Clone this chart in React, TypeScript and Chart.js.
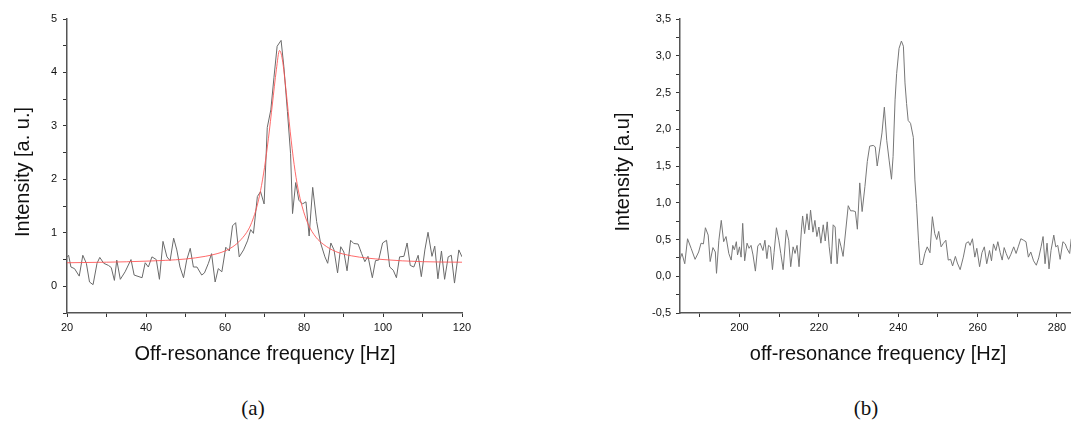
import React, { useEffect, useRef } from 'react';
import { Chart, registerables } from 'chart.js';

Chart.register(...registerables);

// ---------- Panel (a) data ----------
const LEFT_X = [20.0,20.4,21.0,21.9,23.1,24.0,24.9,25.7,26.6,27.6,28.3,29.3,30.5,31.2,32.0,32.6,33.5,34.7,36.2,37.0,39.0,39.8,40.6,41.5,42.6,43.4,44.3,45.3,46.1,47.0,47.8,48.6,49.5,50.3,51.2,52.0,52.9,54.1,54.8,55.8,56.6,57.5,58.3,59.2,60.2,61.1,61.9,62.7,63.6,64.7,65.7,66.5,67.2,68.2,69.0,69.9,70.7,71.6,72.4,73.2,74.2,74.9,75.8,76.6,77.1,77.9,78.7,79.6,80.5,81.3,82.2,83.2,84.2,85.3,86.0,86.8,87.6,88.5,89.3,90.1,90.9,91.8,92.6,93.7,94.6,95.4,96.2,97.3,98.1,98.9,99.9,100.9,101.7,102.6,103.4,104.2,105.3,106.1,106.9,107.8,108.9,109.7,110.6,111.4,112.4,113.1,113.9,114.8,115.6,116.5,117.3,118.1,119.2,120.0];
const LEFT_Y = [0.55,0.58,0.36,0.33,0.19,0.58,0.43,0.08,0.03,0.43,0.54,0.43,0.39,0.35,0.11,0.49,0.13,0.27,0.50,0.21,0.16,0.44,0.36,0.55,0.50,0.13,0.84,0.55,0.48,0.90,0.68,0.36,0.16,0.49,0.71,0.36,0.36,0.21,0.25,0.43,0.61,0.08,0.33,0.27,0.73,0.66,1.13,1.19,0.55,0.68,0.85,1.06,0.99,1.68,1.77,1.54,2.97,3.30,3.91,4.49,4.60,4.11,3.27,2.48,1.36,1.94,1.61,1.54,1.58,0.94,1.85,1.21,0.81,0.55,0.43,0.81,0.68,0.25,0.74,0.64,0.29,0.86,0.80,0.79,0.61,0.46,0.56,0.16,0.48,0.49,0.81,0.86,0.36,0.30,0.16,0.55,0.56,0.81,0.39,0.36,0.58,0.18,0.68,1.01,0.56,0.75,0.14,0.66,0.13,0.55,0.58,0.06,0.68,0.55];

const FIT_X = [20,30,40,50,55,58,60,62,64,66,67,68,69,70,71,72,73,73.8,74.5,75.5,76.5,77.5,78.5,79.5,81,83,85,88,92,100,110,120];
const FIT_Y = [0.44,0.45,0.47,0.51,0.56,0.61,0.66,0.74,0.87,1.07,1.24,1.47,1.79,2.22,2.77,3.41,4.05,4.41,4.25,3.63,2.90,2.28,1.82,1.50,1.17,0.92,0.78,0.65,0.57,0.50,0.46,0.45];

const LEFT_X_TICKS = [20,30,40,50,60,70,80,90,100,110,120];
const LEFT_Y_TICKS = [-0.5,0,0.5,1,1.5,2,2.5,3,3.5,4,4.5,5];

// ---------- Panel (b) data ----------
const RIGHT_X = [184.9,185.5,186.2,186.9,187.8,188.8,189.7,190.3,190.9,191.4,192.1,192.6,193.3,193.9,194.2,194.8,195.4,196.0,196.6,197.3,197.9,198.3,198.7,199.2,199.5,200.0,200.4,200.8,201.3,201.9,202.4,202.9,203.4,204.0,204.6,205.2,205.9,206.4,206.9,207.3,207.8,208.3,208.7,209.3,209.9,210.4,211.0,211.8,212.4,212.9,213.5,214.0,214.5,215.0,215.6,215.9,216.4,217.0,217.5,217.9,218.5,219.0,219.5,220.0,220.5,221.1,221.6,222.1,222.6,223.1,223.6,224.1,224.6,225.1,225.6,226.1,227.4,228.0,228.6,229.2,229.7,230.3,230.9,231.6,232.2,232.8,233.7,234.2,234.7,235.4,235.9,236.5,237.1,237.7,238.3,238.7,239.2,239.6,240.2,240.8,241.3,241.7,242.1,242.5,243.1,243.8,244.2,244.6,245.1,245.5,246.1,246.7,247.3,248.0,248.6,249.2,249.7,250.2,250.8,251.4,252.0,252.6,253.2,253.7,254.4,254.9,255.6,256.4,257.1,257.7,258.1,258.7,259.3,259.8,260.5,261.1,261.7,262.3,263.0,263.5,264.0,264.6,265.1,265.7,266.2,266.7,267.2,267.8,268.4,269.1,269.7,270.3,270.9,271.6,272.2,272.8,273.4,274.1,274.8,275.4,276.0,276.5,277.0,277.5,278.0,278.5,279.2,279.7,280.2,280.8,281.5,282.1,282.5,283.2,283.6];
const RIGHT_Y = [0.22,0.31,0.17,0.51,0.38,0.23,0.33,0.45,0.44,0.66,0.56,0.20,0.39,0.33,0.04,0.49,0.76,0.47,0.54,0.31,0.22,0.42,0.36,0.47,0.29,0.40,0.26,0.72,0.21,0.45,0.38,0.42,0.29,0.07,0.41,0.45,0.35,0.49,0.24,0.42,0.40,0.09,0.32,0.66,0.49,0.31,0.09,0.63,0.49,0.13,0.40,0.31,0.42,0.13,0.63,0.82,0.58,0.85,0.63,0.90,0.60,0.76,0.54,0.67,0.45,0.70,0.48,0.74,0.40,0.17,0.70,0.67,0.17,0.51,0.40,0.27,0.96,0.89,0.89,0.88,0.64,1.27,0.88,1.22,1.56,1.77,1.78,1.76,1.50,1.76,1.95,2.30,1.85,1.58,1.32,1.63,2.40,2.76,3.10,3.20,3.13,2.63,2.35,2.12,2.08,1.89,1.31,0.99,0.49,0.16,0.16,0.31,0.40,0.32,0.81,0.58,0.50,0.61,0.40,0.45,0.49,0.22,0.23,0.14,0.27,0.18,0.09,0.26,0.45,0.47,0.42,0.51,0.26,0.38,0.13,0.32,0.40,0.17,0.35,0.21,0.44,0.35,0.47,0.32,0.22,0.39,0.31,0.23,0.30,0.40,0.31,0.41,0.51,0.49,0.47,0.26,0.33,0.21,0.15,0.25,0.40,0.54,0.17,0.45,0.10,0.35,0.56,0.40,0.42,0.23,0.47,0.44,0.38,0.31,0.51];

const RIGHT_X_TICKS = [190,200,210,220,230,240,250,260,270,280];
const RIGHT_Y_TICKS = [-0.5,-0.25,0,0.25,0.5,0.75,1,1.25,1.5,1.75,2,2.25,2.5,2.75,3,3.25,3.5];

const SANS = '"Liberation Sans", Arial, Helvetica, sans-serif';
const TICK_FONT = { family: SANS, size: 11 };

type PanelSpec = {
  xMin: number; xMax: number; yMin: number; yMax: number;
  xTicks: number[]; yTicks: number[];
  xLabel: (v: number) => string; yLabel: (v: number) => string;
  yAxisWidth: number; padRight: number; yTickPad: number;
  xTitle: string; yTitle: string;
  xTitlePos: [number, number]; yTitlePos: [number, number];
  datasets: any[];
};

function titlePlugin(spec: PanelSpec) {
  return {
    id: 'axisTitles',
    afterDraw(chart: any) {
      const ctx = chart.ctx;
      ctx.save();
      ctx.fillStyle = '#111';
      ctx.font = '20px ' + SANS;
      ctx.textAlign = 'center';
      ctx.textBaseline = 'alphabetic';
      ctx.fillText(spec.xTitle, spec.xTitlePos[0], spec.xTitlePos[1]);
      ctx.translate(spec.yTitlePos[0], spec.yTitlePos[1]);
      ctx.rotate(-Math.PI / 2);
      ctx.fillText(spec.yTitle, 0, 0);
      ctx.restore();
    },
  };
}

function buildConfig(spec: PanelSpec): any {
  const gridOpts = {
    display: true,
    drawOnChartArea: false,
    drawTicks: true,
    tickLength: 4,
    tickColor: '#333',
    tickWidth: 1,
  };
  const borderOpts = { display: true, color: '#555', width: 1.5 };
  return {
    type: 'scatter',
    data: { datasets: spec.datasets },
    options: {
      responsive: false,
      animation: false,
      events: [],
      layout: { padding: { left: 0, top: 19, right: spec.padRight, bottom: 0 } },
      plugins: { legend: { display: false }, tooltip: { enabled: false } },
      scales: {
        x: {
          type: 'linear',
          position: 'bottom',
          min: spec.xMin,
          max: spec.xMax,
          afterBuildTicks: (s: any) => { s.ticks = spec.xTicks.map((v) => ({ value: v })); },
          afterFit: (s: any) => { s.height = 67; },
          ticks: {
            autoSkip: false,
            maxRotation: 0,
            padding: 4,
            color: '#111',
            font: TICK_FONT,
            callback: (v: any) => spec.xLabel(Number(v)),
          },
          grid: gridOpts,
          border: borderOpts,
        },
        y: {
          type: 'linear',
          position: 'left',
          min: spec.yMin,
          max: spec.yMax,
          afterBuildTicks: (s: any) => { s.ticks = spec.yTicks.map((v) => ({ value: v })); },
          afterFit: (s: any) => { s.width = spec.yAxisWidth; },
          ticks: {
            autoSkip: false,
            padding: spec.yTickPad,
            color: '#111',
            font: TICK_FONT,
            callback: (v: any) => spec.yLabel(Number(v)),
          },
          grid: gridOpts,
          border: borderOpts,
        },
      },
    },
    plugins: [titlePlugin(spec)],
  };
}

function line(xs: number[], ys: number[], color: string) {
  return {
    data: xs.map((x, i) => ({ x, y: ys[i] })),
    showLine: true,
    borderColor: color,
    backgroundColor: color,
    borderWidth: 1,
    pointRadius: 0,
    fill: false,
    tension: 0,
  };
}

const leftSpec: PanelSpec = {
  xMin: 20, xMax: 120, yMin: -0.5, yMax: 5,
  xTicks: LEFT_X_TICKS, yTicks: LEFT_Y_TICKS,
  xLabel: (v) => (v % 20 === 0 ? String(v) : ''),
  yLabel: (v) => (Number.isInteger(v) && v >= 0 ? String(v) : ''),
  yAxisWidth: 67, padRight: 540 - 462, yTickPad: 6,
  xTitle: 'Off-resonance frequency [Hz]', yTitle: 'Intensity [a. u.]',
  xTitlePos: [265, 360], yTitlePos: [28.5, 172],
  datasets: [
    { ...line(FIT_X, FIT_Y, 'rgba(255,80,80,0.85)'), cubicInterpolationMode: 'monotone' },
    line(LEFT_X, LEFT_Y, '#6a6a6a'),
  ],
};

const rightSpec: PanelSpec = {
  xMin: 185, xMax: 285, yMin: -0.5, yMax: 3.5,
  xTicks: RIGHT_X_TICKS, yTicks: RIGHT_Y_TICKS,
  xLabel: (v) => (v % 20 === 0 ? String(v) : ''),
  yLabel: (v) => (Math.abs(v * 2 - Math.round(v * 2)) < 1e-9 ? v.toFixed(1).replace('.', ',') : ''),
  yAxisWidth: 80, padRight: 3.2, yTickPad: 5,
  xTitle: 'off-resonance frequency [Hz]', yTitle: 'Intensity [a.u]',
  xTitlePos: [278, 360], yTitlePos: [28.5, 172],
  datasets: [line(RIGHT_X, RIGHT_Y, '#777777')],
};

function Panel({ spec, left, width }: { spec: PanelSpec; left: number; width: number }) {
  const ref = useRef<HTMLCanvasElement | null>(null);
  useEffect(() => {
    if (!ref.current) return;
    const chart = new Chart(ref.current, buildConfig(spec));
    return () => chart.destroy();
  }, [spec]);
  return (
    <canvas
      ref={ref}
      width={width}
      height={380}
      style={{ position: 'absolute', left, top: 0, width, height: 380 }}
    />
  );
}

const captionStyle: React.CSSProperties = {
  position: 'absolute',
  top: 396,
  width: 60,
  textAlign: 'center',
  fontFamily: '"Liberation Serif", "DejaVu Serif", serif',
  fontSize: 21,
  lineHeight: '24px',
  color: '#111',
};

export default function App() {
  return (
    <div
      style={{
        position: 'fixed',
        left: 0,
        top: 0,
        width: 1071,
        height: 421,
        overflow: 'hidden',
        background: '#fff',
      }}
    >
      <Panel spec={leftSpec} left={0} width={540} />
      <Panel spec={rightSpec} left={600} width={480} />
      <div style={{ ...captionStyle, left: 253 - 30 }}>(a)</div>
      <div style={{ ...captionStyle, left: 866 - 30 }}>(b)</div>
    </div>
  );
}
